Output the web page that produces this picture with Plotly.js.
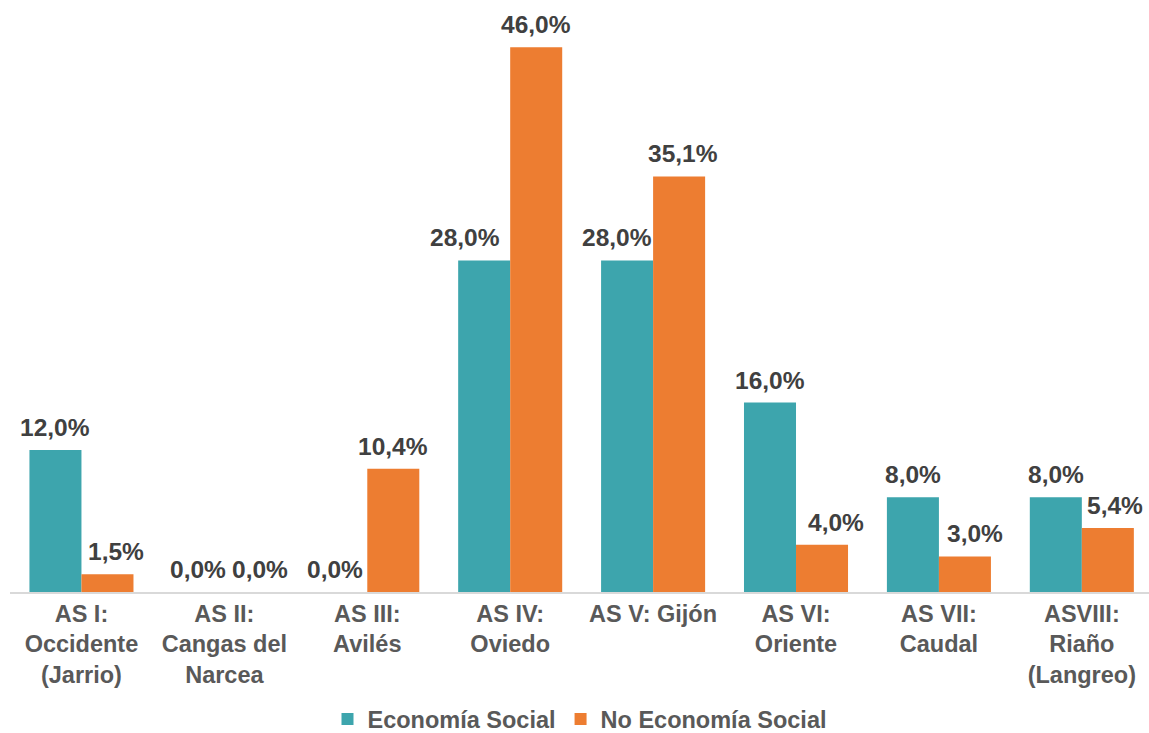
<!DOCTYPE html>
<html>
<head>
<meta charset="utf-8">
<script src="https://cdn.plot.ly/plotly-3.0.1.min.js"></script>
<style>html,body{margin:0;padding:0;background:#fff;overflow:hidden;}</style>
</head>
<body>
<div id="chart" style="width:1149px;height:733px;"></div>
<script>
const categories = [
  "AS I:<br>Occidente<br>(Jarrio)",
  "AS II:<br>Cangas del<br>Narcea",
  "AS III:<br>Avilés",
  "AS IV:<br>Oviedo",
  "AS V: Gijón",
  "AS VI:<br>Oriente",
  "AS VII:<br>Caudal",
  "ASVIII:<br>Riaño<br>(Langreo)"
];
const economiaSocial = [12.0, 0.0, 0.0, 28.0, 28.0, 16.0, 8.0, 8.0];
const noEconomiaSocial = [1.5, 0.0, 10.4, 46.0, 35.1, 4.0, 3.0, 5.4];

// label nudges (px) mimicking the source's overlap avoidance
const nudgeES = [0, 0, -6, -19, -10, 0, 0, 0];
const nudgeNoES = [9, 10, 0, 0, 4, 14, 10, 7];

const FONT = "Arial";
const BARGAP = 0.272;
const labelFont = {family: FONT, size: 24.5, color: "#404040", weight: "bold"};

const traces = [
  {
    type: "bar", name: "Economía Social", x: categories, y: economiaSocial,
    marker: {color: "#3DA5AD"}, hoverinfo: "skip"
  },
  {
    type: "bar", name: "No Economía Social", x: categories, y: noEconomiaSocial,
    marker: {color: "#ED7D31"}, hoverinfo: "skip"
  }
];

const fmt = v => v.toFixed(1).replace(".", ",") + "%";
const half = (1 - BARGAP) / 4;
const annotations = [];
categories.forEach((c, i) => {
  [[economiaSocial, nudgeES, -half], [noEconomiaSocial, nudgeNoES, half]].forEach(([vals, nud, off]) => {
    annotations.push({
      x: i + off, y: vals[i], xref: "x", yref: "y",
      text: fmt(vals[i]), showarrow: false,
      xanchor: "center", yanchor: "bottom", yshift: 7, xshift: nud[i],
      font: labelFont
    });
  });
});

const layout = {
  width: 1149, height: 733,
  margin: {l: 10, r: 0, t: 0, b: 141, autoexpand: false},
  paper_bgcolor: "#ffffff", plot_bgcolor: "#ffffff",
  barmode: "group", bargap: BARGAP, bargroupgap: 0,
  font: {family: FONT},
  xaxis: {
    range: [-0.5, 7.47],
    showgrid: false, showline: true, linecolor: "#d9d9d9", linewidth: 1.5,
    automargin: false,
    ticks: "", tickfont: {family: FONT, size: 23.5, color: "#595959", weight: "bold"},
    fixedrange: true
  },
  yaxis: {
    range: [0, 50], visible: false, showgrid: false, zeroline: false, fixedrange: true
  },
  annotations: annotations,
  showlegend: true,
  legend: {
    orientation: "h", x: 0.5, xanchor: "center", y: -0.215, yanchor: "middle",
    font: {family: FONT, size: 23.5, color: "#595959", weight: "bold"},
    itemwidth: 30, tracegroupgap: 0
  }
};

Plotly.newPlot("chart", traces, layout, {displayModeBar: false, staticPlot: true});
</script>
</body>
</html>
